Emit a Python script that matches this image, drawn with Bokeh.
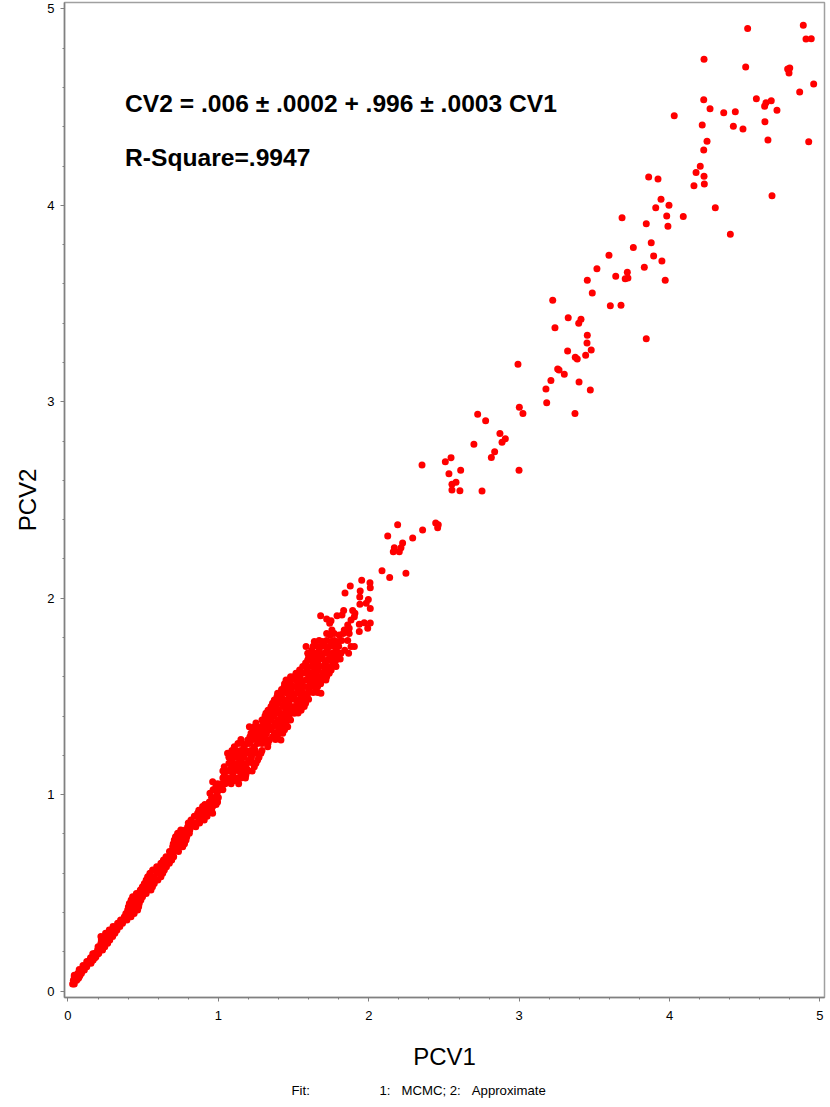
from bokeh.plotting import figure
from bokeh.embed import file_html
from bokeh.resources import INLINE
from bokeh.models import FixedTicker, Label, Range1d, ColumnDataSource, Title

# Sparse upper points, read individually
tail_pcv1 = [4.519,4.889,4.907,4.942,4.229,4.506,4.799,4.785,4.794,4.958,4.865,4.577,4.641,4.632,4.676,4.714,4.227,4.269,4.360,4.437,
             4.031,4.217,4.424,4.488,4.634,4.654,4.925,4.249,4.227,4.204,4.176,4.229,4.231,4.162,3.861,3.923,4.681,3.943,3.996,3.908,
             4.304,3.981,4.091,3.684,3.845,3.989,4.404,3.878,3.759,3.597,3.894,3.949,3.832,3.517,3.719,3.642,3.705,3.723,3.453,3.971,
             3.486,3.223,3.606,3.677,3.326,3.411,3.396,3.238,3.453,3.451,3.845,3.479,3.322,3.442,3.373,3.386,2.992,3.256,3.265,3.300,
             3.211,3.398,3.178,3.473,3.183,3.371,3.001,3.025,2.724,2.777,2.872,2.908,2.886,2.699,2.837,2.815,2.547,2.509,2.354,2.611,
             2.999,2.533,2.580,2.553,2.553,2.606,2.753,2.192,2.445,2.462,2.458,2.358,2.126,2.292,2.225,2.170,2.214,2.163,2.203,2.088,
             2.247,2.139,1.953,2.008,2.010,1.877,1.943,1.842,1.940,1.997,1.983,1.941,2.010,1.833,1.893,1.908,1.904,1.789,1.822,1.680,
             1.720,1.749,1.740,1.882,1.860,1.870,1.937,1.970,2.010,1.993,1.937]
tail_pcv2 = [4.900,4.917,4.847,4.849,4.744,4.705,4.700,4.695,4.674,4.618,4.577,4.543,4.523,4.505,4.533,4.484,4.538,4.492,4.472,4.477,
             4.457,4.409,4.403,4.389,4.426,4.333,4.324,4.326,4.282,4.199,4.167,4.148,4.109,4.100,4.145,4.134,4.049,4.031,4.001,3.988,
             3.988,3.946,3.943,3.937,3.907,3.894,3.853,3.810,3.785,3.746,3.742,3.717,3.685,3.678,3.659,3.639,3.627,3.630,3.619,3.619,
             3.554,3.517,3.489,3.491,3.428,3.420,3.400,3.377,3.339,3.299,3.321,3.264,3.259,3.237,3.227,3.218,3.191,3.167,3.162,3.140,
             3.109,3.101,3.065,3.060,2.995,2.941,2.972,2.941,2.936,2.904,2.838,2.812,2.794,2.784,2.746,2.717,2.715,2.695,2.678,2.651,
             2.651,2.634,2.590,2.580,2.551,2.547,2.546,2.374,2.383,2.374,2.359,2.347,2.317,2.306,2.281,2.257,2.257,2.237,2.237,2.140,
             2.127,2.106,2.091,2.079,2.053,2.062,2.037,2.026,2.006,1.994,1.974,1.969,1.947,1.938,1.938,1.923,1.906,1.911,1.914,1.911,
             1.894,1.885,1.872,1.889,1.864,1.847,1.867,1.875,1.874,1.847,1.831]

# Dense band, read row by row: one PCV2 level and the PCV1 positions seen at that level
band_pcv2 = [.036,.055,.073,.090,.107,.124,.141,.158,.175,.192,.209,.226,.243,.260,.277,.294,.311,.328,.345,.362,
             .378,.395,.412,.429,.446,.463,.480,.497,.514,.531,.548,.565,.582,.599,.616,.633,.650,.667,.684,.710,
             .735,.769,.803,.837,.871,.905,.939,.963,1.007,1.041,1.066,1.100,1.142,1.176,1.210,1.244,1.278,1.312,1.346,1.380,
             1.414,1.448,1.482,1.516,1.550,1.584,1.618,1.652,1.686,1.720,1.754,1.779,1.813,1.838,
             .75,.785,.82,.855,.89,.92,.95,.985,1.025,1.055,1.085,1.12,1.16,1.19,1.225,1.26,1.295,1.33,1.365,1.40,
             1.43,1.465,1.50,1.535,1.565,1.60,1.635,1.67,1.70,1.735,
             1.28,1.31,1.345,1.38,1.415,1.45,1.485,1.52,1.55,1.585,1.62,1.655,1.69,1.72,1.755,1.785,1.82,
             .065,.08,.11,.13,.15,.17,.19,
             1.07,1.13,1.20]
band_pcv1 = [[.031,.042],[.036,.058],[.042,.060,.075],[.066,.090],[.091,.109],[.105,.125],[.131,.153],[.145,.168],[.164,.186],[.180,.205],
             [.197,.215,.230],[.200,.228,.245],[.219,.242,.264],[.222,.250,.278],[.219,.258,.297],[.250,.285,.312],[.275,.300,.326],[.300,.330,.345],[.330,.346,.363],[.350,.372,.392],
             [.375,.397,.419],[.385,.412,.440],[.397,.430,.463],[.402,.440,.470],[.408,.440,.474],[.420,.450,.485],[.430,.463,.496],[.455,.490,.520],[.481,.516,.552],[.495,.530,.562],
             [.508,.541,.574],[.520,.555,.598],[.530,.574,.618],[.545,.590,.630],[.563,.602,.641],[.590,.625,.655],[.618,.646,.674],[.635,.665,.690],[.652,.678,.703],[.675,.705,.735],
             [.696,.730,.763],[.707,.746,.785],[.729,.768,.807],[.796,.818,.850],[.818,.870,.906],[.862,.895,.929,.962],[.895,.928,.962],[.962,.995,.940],[.944,.991],[.984,1.017],
             [.962,1.040],[1.040,1.095,1.150,1.183],[1.039,1.106,1.172,1.239,1.139],[1.084,1.150,1.206,1.261],[1.061,1.139,1.195,1.250,1.283],[1.106,1.172,1.239,1.328],[1.195,1.261,1.339,1.416],[1.217,1.283,1.372,1.428],[1.206,1.283,1.361,1.461],[1.316,1.394,1.450],
             [1.316,1.372,1.438,1.505],[1.350,1.427,1.505,1.571],[1.372,1.450,1.516,1.571],[1.394,1.461,1.527,1.594,1.682],[1.438,1.505,1.571,1.638,1.660],[1.450,1.516,1.583,1.660,1.715],[1.516,1.561,1.616,1.693,1.737],[1.561,1.616,1.682,1.749,1.782],[1.594,1.660,1.727,1.782],[1.594,1.638,1.704,1.760,1.815,1.866],
             [1.583,1.660,1.715,1.771,1.882,1.904],[1.638,1.693,1.749,1.796],[1.744,1.804],[1.755,1.837],
             [.70,.725,.75,.775],[.715,.74,.765,.79],[.75,.78,.81],[.80,.82,.845,.875],[.84,.87,.90,.925],[.87,.90,.935,.955],[.91,.935,.96,.985],[.955,.975,1.00],[.965,.99,1.01,1.03],[.995,1.02,1.045,1.085,1.135],
             [1.03,1.06,1.09,1.12,1.15,1.18],[1.03,1.065,1.10,1.135,1.165,1.20,1.225],[1.07,1.10,1.13,1.16,1.19,1.23,1.25],[1.07,1.115,1.145,1.17,1.22,1.27],[1.09,1.12,1.15,1.18,1.215,1.245,1.29],[1.13,1.155,1.19,1.21,1.26,1.29,1.33],[1.21,1.24,1.28,1.31,1.36,1.39],[1.24,1.26,1.30,1.33,1.35,1.40,1.44],[1.25,1.30,1.33,1.375,1.41,1.45],[1.31,1.34,1.37,1.415,1.43,1.47],
             [1.33,1.36,1.40,1.45,1.48,1.52,1.55],[1.36,1.40,1.44,1.47,1.53,1.56,1.58],[1.39,1.42,1.47,1.50,1.55,1.59],[1.42,1.45,1.48,1.53,1.55,1.60,1.65],[1.44,1.48,1.53,1.555,1.61,1.65,1.68],[1.48,1.50,1.54,1.60,1.64,1.68,1.72],[1.54,1.59,1.64,1.66,1.71,1.75],[1.58,1.63,1.66,1.71,1.76],[1.60,1.65,1.69,1.74,1.77,1.80],[1.62,1.67,1.725,1.785,1.84],
             [1.15,1.23,1.30,1.38],[1.25,1.32,1.40],[1.24,1.32,1.40,1.43],[1.29,1.35,1.42,1.48],[1.345,1.405,1.47,1.53],[1.38,1.46,1.54],[1.41,1.48,1.545,1.60],[1.43,1.49,1.56,1.63,1.66],[1.47,1.54,1.60],[1.48,1.55,1.62,1.69],[1.54,1.58,1.65,1.72],[1.59,1.65,1.72,1.78],[1.63,1.69,1.75,1.81],[1.62,1.67,1.73,1.79],[1.63,1.69,1.745,1.80],[1.67,1.72,1.77,1.82,1.86],[1.72,1.77,1.83,1.87],
             [.05,.07],[.042,.06,.08],[.075,.10],[.10,.125],[.125,.155],[.15,.18],[.165,.20],
             [1.06,1.10,1.13],[1.08,1.13,1.19],[1.10,1.16,1.22]]

tick_values = [0, 1, 2, 3, 4, 5]
minor_values = [.2,.4,.6,.8,1.2,1.4,1.6,1.8,2.2,2.4,2.6,2.8,3.2,3.4,3.6,3.8,4.2,4.4,4.6,4.8]
title_lines = ["CV2 = .006 \u00b1 .0002 + .996 \u00b1 .0003 CV1", "R-Square=.9947"]
footnote = "Fit:" + "\u00a0" * 19 + "1:\u00a0\u00a0\u00a0MCMC; 2:\u00a0\u00a0\u00a0Approximate"

xs = list(tail_pcv1)
ys = list(tail_pcv2)
for level, row in zip(band_pcv2, band_pcv1):
    xs.extend(row)
    ys.extend([level] * len(row))

p = figure(width=829, height=1104, frame_width=760, frame_height=995,
           x_range=Range1d(-0.023, 5.03), y_range=Range1d(-0.033, 5.033),
           output_backend="svg", toolbar_location=None,
           min_border_left=64, min_border_top=2, min_border_right=5, min_border_bottom=107,
           background_fill_color="white", border_fill_color="white")
p.grid.visible = False
p.outline_line_color = "#a0a0a0"
p.outline_line_width = 1.5

for ax, name, standoff_label, standoff_tick in ((p.xaxis[0], "PCV1", 20, 9), (p.yaxis[0], "PCV2", 3, 6)):
    ax.ticker = FixedTicker(ticks=tick_values, minor_ticks=minor_values)
    ax.axis_label = name
    ax.axis_label_text_font = "Liberation Sans"
    ax.axis_label_text_font_size = "24px"
    ax.axis_label_text_font_style = "normal"
    ax.axis_label_text_color = "black"
    ax.axis_label_standoff = standoff_label
    ax.major_label_text_font = "Liberation Sans"
    ax.major_label_text_font_size = "13px"
    ax.major_label_text_color = "black"
    ax.major_label_standoff = standoff_tick
    ax.axis_line_color = "#808080"
    ax.axis_line_width = 1.5
    ax.major_tick_line_color = "#808080"
    ax.minor_tick_line_color = "#808080"
    ax.major_tick_in = 0
    ax.minor_tick_in = 0
    ax.major_tick_out = 4
    ax.minor_tick_out = 2
p.yaxis[0].major_label_orientation = "horizontal"

p.scatter(x="x", y="y", source=ColumnDataSource(dict(x=xs, y=ys)), size=7,
          fill_color="#ff0000", line_color="#ff0000", line_width=0)

p.add_layout(Label(x=.38, y=4.45, text=title_lines[0], text_font="Liberation Sans", text_font_style="bold",
                   text_font_size="24.6px", text_color="black"))
p.add_layout(Label(x=.38, y=4.176, text=title_lines[1], text_font="Liberation Sans", text_font_style="bold",
                   text_font_size="24.6px", text_color="black"))
p.add_layout(Title(text=footnote, align="left", offset=227, standoff=17, text_font="Liberation Sans",
                   text_font_size="13.2px", text_font_style="normal", text_color="black"), "below")

open("out.html", "w").write(file_html(p, INLINE))
